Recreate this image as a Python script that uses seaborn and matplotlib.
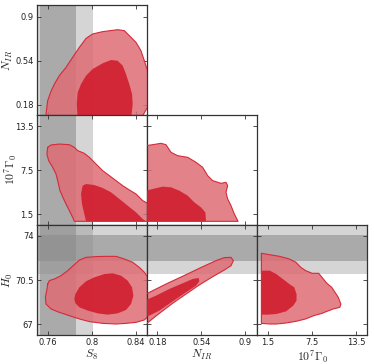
import numpy as np
import matplotlib
matplotlib.use("Agg")
import matplotlib.pyplot as plt
import seaborn as sns

# parameter ranges, ticks and labels
s8_lim = (0.75, 0.85)
nir_lim = (0.095, 0.995)
gam_lim = (0.0, 15.0)
h0_lim = (66.15, 74.85)

s8_ticks = [0.76, 0.8, 0.84]
nir_ticks = [0.18, 0.54, 0.9]
gam_ticks = [1.5, 7.5, 13.5]
h0_ticks = [67, 70.5, 74]

s8_label = r"$S_8$"
nir_label = r"$N_{IR}$"
gam_label = r"$10^7\Gamma_0$"
h0_label = r"$H_0$"

# external priors (mean, sigma)
s8_prior = (0.769, 0.016)
h0_prior = (73.04, 1.04)

# 68% / 95% contour outlines
s8_nir_outer = [(0.758, 0.06), (0.758, 0.087), (0.7597, 0.212), (0.7627, 0.288), (0.7658, 0.348),
                (0.7703, 0.417), (0.7764, 0.485), (0.7824, 0.567), (0.7885, 0.648), (0.7946, 0.722),
                (0.8006, 0.758), (0.8097, 0.777), (0.8233, 0.793), (0.8294, 0.785), (0.8355, 0.730),
                (0.84, 0.689), (0.8445, 0.621), (0.8476, 0.539), (0.85, 0.471), (0.8537, 0.376),
                (0.8537, 0.212), (0.846, 0.087), (0.846, 0.06)]
s8_nir_inner = [(0.787, 0.06), (0.7861, 0.185), (0.787, 0.280), (0.79, 0.348), (0.7946, 0.417),
                (0.8006, 0.471), (0.8097, 0.518), (0.8173, 0.545), (0.8233, 0.539), (0.8279, 0.499),
                (0.8309, 0.430), (0.8339, 0.348), (0.8364, 0.267), (0.837, 0.185), (0.8355, 0.06)]

s8_gam_outer = [(0.7597, 10.59), (0.7627, 10.91), (0.7703, 11.04), (0.7794, 10.95), (0.7839, 10.59),
                (0.787, 10.14), (0.793, 9.77), (0.7976, 9.23), (0.8036, 8.32), (0.8097, 7.41),
                (0.8158, 6.73), (0.8218, 6.05), (0.8279, 5.36), (0.834, 4.77), (0.84, 4.23),
                (0.8461, 3.32), (0.8536, 2.7), (0.8536, 0.5), (0.7839, 0.5), (0.7824, 1.05),
                (0.7794, 1.96), (0.7749, 3.32), (0.7709, 4.68), (0.7688, 6.05), (0.7673, 6.95),
                (0.7643, 7.86), (0.7606, 8.77), (0.759, 9.68)]
s8_gam_inner = [(0.7915, 5.36), (0.7946, 5.59), (0.8021, 5.45), (0.8097, 5.05), (0.8173, 4.46),
                (0.8249, 3.55), (0.8324, 2.64), (0.84, 1.73), (0.8461, 0.82), (0.8491, 0.5),
                (0.7946, 0.5), (0.793, 1.5), (0.7909, 2.86), (0.79, 4.23)]

nir_gam_outer = [(0.06, 10.82), (0.0868, 10.82), (0.1413, 10.95), (0.2095, 11.14), (0.2504, 10.95),
                 (0.2913, 9.91), (0.3459, 9.45), (0.4277, 9.23), (0.4959, 8.55), (0.5504, 7.86),
                 (0.5913, 6.73), (0.6322, 6.05), (0.7004, 5.68), (0.7413, 5.82), (0.7549, 5.36),
                 (0.7413, 4.46), (0.7549, 3.55), (0.7822, 2.64), (0.8095, 1.5), (0.8368, 0.6),
                 (0.84, 0.5), (0.06, 0.5)]
nir_gam_inner = [(0.06, 4.68), (0.0868, 4.68), (0.1413, 4.91), (0.2232, 5.23), (0.2913, 5.14),
                 (0.3595, 4.68), (0.4277, 4.0), (0.4822, 3.09), (0.5368, 2.41), (0.5722, 1.73),
                 (0.5777, 0.5), (0.06, 0.5)]

s8_h0_outer = [(0.7597, 70.18), (0.7612, 70.45), (0.7658, 70.58), (0.7718, 70.84), (0.7779, 71.24),
               (0.7839, 71.71), (0.7885, 72.08), (0.7946, 72.29), (0.8036, 72.35), (0.8127, 72.37),
               (0.8218, 72.37), (0.8294, 72.16), (0.837, 71.90), (0.843, 71.50), (0.8476, 71.11),
               (0.8509, 70.71), (0.8536, 70.45), (0.8536, 67.81), (0.8476, 67.34), (0.84, 67.15),
               (0.8309, 67.07), (0.8218, 67.02), (0.8097, 67.07), (0.7976, 67.21), (0.7885, 67.42),
               (0.7794, 67.68), (0.7703, 67.94), (0.7627, 68.21), (0.7582, 68.60), (0.7576, 69.13),
               (0.7591, 69.79)]
s8_h0_inner = [(0.7849, 69.39), (0.7885, 69.92), (0.7946, 70.40), (0.8021, 70.71), (0.8112, 70.97),
               (0.8188, 71.03), (0.8264, 70.84), (0.8324, 70.45), (0.8364, 69.92), (0.8376, 69.26),
               (0.8355, 68.60), (0.8309, 68.13), (0.8233, 67.86), (0.8142, 67.76), (0.8052, 67.86),
               (0.7961, 68.08), (0.7885, 68.34), (0.7849, 68.66), (0.7839, 69.00)]

nir_h0_outer = [(0.06, 69.45), (0.0868, 69.39), (0.2504, 70.18), (0.414, 70.92), (0.5504, 71.55),
                (0.6595, 72.03), (0.7277, 72.27), (0.7822, 72.29), (0.8013, 72.03), (0.7822, 71.63),
                (0.7277, 71.29), (0.6322, 70.76), (0.5231, 70.11), (0.414, 69.39), (0.305, 68.66),
                (0.1959, 67.86), (0.114, 67.23), (0.0868, 67.02), (0.06, 66.95)]
nir_h0_inner = [(0.06, 68.95), (0.0868, 68.92), (0.1686, 69.26), (0.2777, 69.79), (0.3868, 70.24),
                (0.4686, 70.58), (0.5177, 70.66), (0.5231, 70.40), (0.4959, 70.05), (0.414, 69.53),
                (0.305, 68.81), (0.1959, 68.08), (0.114, 67.68), (0.0868, 67.60), (0.06, 67.55)]

gam_h0_outer = [(0.6, 72.61), (1.74, 72.50), (3.08, 72.37), (4.41, 72.16), (5.30, 71.90),
                (5.97, 71.50), (6.63, 71.24), (7.52, 71.03), (8.41, 71.03), (8.86, 70.71),
                (9.52, 70.24), (10.19, 69.92), (10.63, 69.53), (11.08, 69.13), (11.43, 68.60),
                (11.30, 68.34), (10.41, 68.21), (9.52, 68.02), (8.86, 67.86), (7.74, 67.68),
                (6.63, 67.42), (5.30, 67.23), (3.97, 67.10), (2.63, 67.02), (1.74, 67.02),
                (0.6, 67.07)]
gam_h0_inner = [(0.6, 71.24), (1.74, 71.24), (2.63, 70.97), (3.52, 70.58), (4.41, 70.18),
                (5.08, 69.92), (5.39, 69.39), (5.39, 68.87), (4.94, 68.47), (3.97, 68.02),
                (2.63, 67.81), (1.52, 67.76), (0.6, 67.76)]

light_red = "#df6c74"
dark_red = "#d22232"
edge_red = "#d42a3a"
band_grey = "#8c8c8c"

sns.set_style("ticks")
plt.rcParams["mathtext.fontset"] = "cm"
plt.rcParams["font.family"] = ["DejaVu Sans"]

fig = plt.figure(figsize=(3.74, 3.64), dpi=100)
W, H = 374.0, 364.0
col_left = [37, 147, 257]
row_top = [5, 115, 225]
size = 110

params = {
    "s8": (s8_lim, s8_ticks, s8_label),
    "nir": (nir_lim, nir_ticks, nir_label),
    "gam": (gam_lim, gam_ticks, gam_label),
    "h0": (h0_lim, h0_ticks, h0_label),
}
cols = ["s8", "nir", "gam"]
rows = ["nir", "gam", "h0"]
contours = {
    ("s8", "nir"): (s8_nir_outer, s8_nir_inner),
    ("s8", "gam"): (s8_gam_outer, s8_gam_inner),
    ("nir", "gam"): (nir_gam_outer, nir_gam_inner),
    ("s8", "h0"): (s8_h0_outer, s8_h0_inner),
    ("nir", "h0"): (nir_h0_outer, nir_h0_inner),
    ("gam", "h0"): (gam_h0_outer, gam_h0_inner),
}

for i, py in enumerate(rows):
    for j, px in enumerate(cols[: i + 1]):
        ax = fig.add_axes([col_left[j] / W, 1 - (row_top[i] + size) / H, size / W, size / H])
        xlim, xticks, xlabel = params[px]
        ylim, yticks, ylabel = params[py]

        # prior bands (1 and 2 sigma)
        if px == "s8":
            m, s = s8_prior
            ax.axvspan(m - 2 * s, m + 2 * s, color=band_grey, alpha=0.365, lw=0, zorder=0)
            ax.axvspan(m - s, m + s, color=band_grey, alpha=0.59, lw=0, zorder=0)
        if py == "h0":
            m, s = h0_prior
            ax.axhspan(m - 2 * s, m + 2 * s, color=band_grey, alpha=0.365, lw=0, zorder=0)
            ax.axhspan(m - s, m + s, color=band_grey, alpha=0.59, lw=0, zorder=0)

        outer, inner = contours[(px, py)]
        ox, oy = zip(*outer)
        ix, iy = zip(*inner)
        ax.fill(ox, oy, color=light_red, alpha=0.85, lw=0, zorder=2)
        ax.fill(ix, iy, color=dark_red, alpha=0.95, lw=0, zorder=3)
        sns.lineplot(x=list(ox) + [ox[0]], y=list(oy) + [oy[0]], sort=False, estimator=None,
                     color=edge_red, lw=0.8, ax=ax, zorder=4)

        ax.set_xlim(xlim)
        ax.set_ylim(ylim)
        ax.set_xticks(xticks)
        ax.set_yticks(yticks)
        ax.tick_params(direction="in", top=True, right=True, length=3, width=0.6,
                       labelsize=6, pad=2.5, colors="#333333", labelcolor="#222222")
        for sp in ax.spines.values():
            sp.set_linewidth(0.9)
            sp.set_color("#333333")
        if i == 2:
            ax.set_xticklabels([f"{t:g}" for t in xticks])
            ax.set_xlabel(xlabel, fontsize=8.5)
            ax.xaxis.set_label_coords(0.5, -0.115)
        else:
            ax.set_xticklabels([])
            ax.set_xlabel("")
        if j == 0:
            ax.set_yticklabels([f"{t:g}" for t in yticks])
            ax.set_ylabel(ylabel, fontsize=8.5)
            ax.yaxis.set_label_coords(-0.165 if py == "gam" else -0.2, 0.5)
        else:
            ax.set_yticklabels([])
            ax.set_ylabel("")

fig.savefig("out.png", dpi=100)
